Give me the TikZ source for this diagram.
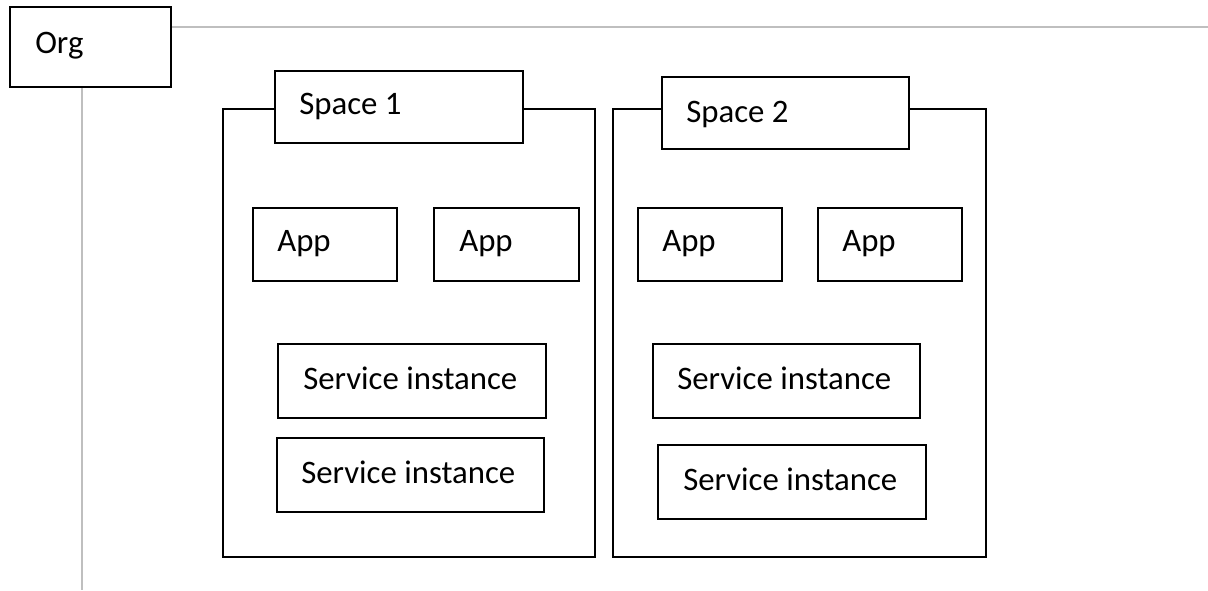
\documentclass[tikz,border=0pt]{standalone}
\usepackage{fontspec}
\setmainfont{Carlito}
\usetikzlibrary{fit}
\definecolor{linkgray}{RGB}{191,191,191}
\tikzset{
  box/.style={draw=black, line width=1.6pt, fill=white, inner sep=0pt},
  lbl/.style={anchor=base west, inner sep=0pt, font=\fontsize{24.6}{29}\selectfont},
  conn/.style={draw=linkgray, line width=1.6pt}
}
\begin{document}
\begin{tikzpicture}[x=0.75pt, y=-0.75pt]
\useasboundingbox (0,0) rectangle (1208,590);

% organisation box and its two grey rails
\node[box, fit={(10,7) (171,87)}] (org) {};
\node[lbl] (orgt) at (35,53) {Org};
\coordinate (hend) at (1208,27);
\coordinate (vend) at (82,590);
\draw[conn] (hend -| org.east) -- (hend);
\draw[conn] (vend |- org.south) -- (vend);

% space 1
\node[box, fit={(223,109) (595,557)}] (sp1) {};
\node[box, fit={(275,71) (523,143)}] (sp1h) {};
\node[lbl] (sp1t) at (299,114) {Space 1};
\node[box, fit={(253,208) (397,281)}] (app1) {};
\node[lbl] (app1t) at (277,251) {App};
\node[box, fit={(434,208) (579,281)}] (app2) {};
\node[lbl] (app2t) at (459,251) {App};
\node[box, fit={(278,344) (546,418)}] (si1) {};
\node[lbl] (si1t) at (303,389) {Service instance};
\node[box, fit={(277,438) (544,512)}] (si2) {};
\node[lbl] (si2t) at (301,483) {Service instance};

% space 2
\node[box, fit={(613,109) (986,557)}] (sp2) {};
\node[box, fit={(662,77) (909,149)}] (sp2h) {};
\node[lbl] (sp2t) at (686,122) {Space 2};
\node[box, fit={(638,208) (782,281)}] (app3) {};
\node[lbl] (app3t) at (662,251) {App};
\node[box, fit={(818,208) (962,281)}] (app4) {};
\node[lbl] (app4t) at (842,251) {App};
\node[box, fit={(653,344) (920,418)}] (si3) {};
\node[lbl] (si3t) at (677,389) {Service instance};
\node[box, fit={(658,445) (926,519)}] (si4) {};
\node[lbl] (si4t) at (683,490) {Service instance};
\end{tikzpicture}
\end{document}
